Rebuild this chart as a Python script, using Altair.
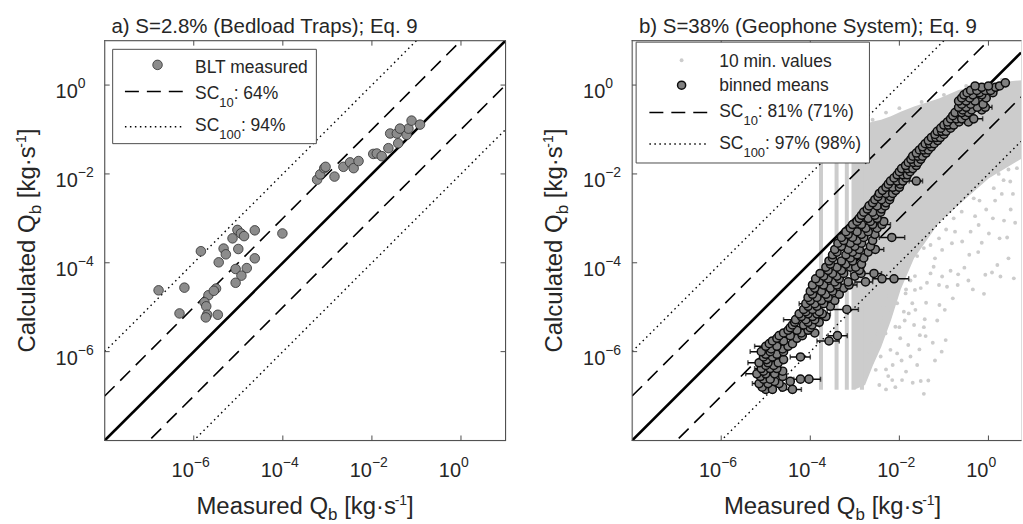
import altair as alt
import pandas as pd

# ------------------------------------------------------------------ data
# reference lines: calculated = factor * measured
LINE_SOLID = [1.0]
LINE_DASHED = [10.0, 0.1]
LINE_DOTTED = [100.0, 0.01]

# labelled decade ticks (exponents)
TICK_EXP = [-6, -4, -2, 0]

# panel a: bedload traps, log10(measured), log10(calculated)
BLT_LOGX = [-6.79, -6.21, -6.32, -5.02, -5.84, -5.33, -5.28, -5.44, -5.13, -5.00, -4.94, -4.87,
            -4.63, -4.01, -4.63, -4.81, -5.06, -4.93, -5.06, -5.50, -5.67, -5.76, -5.72, -5.70,
            -5.73, -5.46, -5.55,
            -3.23, -3.16, -3.07, -3.04, -2.84, -2.64, -2.49, -2.41, -2.30, -1.97, -1.89, -1.78,
            -1.63, -1.59, -1.44, -1.41, -1.22, -1.18, -1.11, -0.92, -1.37]
BLT_LOGY = [-4.62, -4.56, -5.14, -3.26, -3.74, -3.68, -3.81, -3.99, -3.45, -3.69, -3.34, -3.40,
            -3.27, -3.34, -3.90, -4.12, -4.14, -4.29, -4.45, -4.58, -4.73, -4.89, -4.98, -5.17,
            -5.23, -5.17, -4.63,
            -2.13, -2.01, -1.87, -1.84, -2.06, -1.84, -1.74, -1.87, -1.71, -1.55, -1.54, -1.60,
            -1.42, -1.09, -1.09, -1.31, -1.12, -0.98, -0.80, -0.89, -0.98]

# panel b: binned means, rows of (log10 calculated, [log10 measured, ...])
BINNED_ROWS = [
    (-6.85, [-5.00, -4.85, -4.40]),
    (-6.80, [-5.08, -4.62]),
    (-6.72, [-5.15, -4.95, -4.70]),
    (-6.67, [-4.80, -4.45]),
    (-6.62, [-5.05, -4.90, -4.22, -4.03]),
    (-6.56, [-5.12, -4.62]),
    (-6.50, [-5.20, -5.00, -4.80]),
    (-6.44, [-5.05, -4.62]),
    (-6.38, [-5.10, -4.90, -4.75]),
    (-6.31, [-5.00, -4.82]),
    (-6.25, [-5.15, -4.95, -4.72]),
    (-6.18, [-4.98, -4.60]),
    (-6.12, [-5.05, -4.85, -4.22]),
    (-6.06, [-5.00, -4.75]),
    (-6.00, [-5.10, -4.90, -4.60]),
    (-5.94, [-4.88, -4.62]),
    (-5.88, [-5.00, -4.75, -4.50]),
    (-5.82, [-4.92, -4.40]),
    (-5.76, [-4.85, -4.60, -3.58]),
    (-5.70, [-4.75, -4.30]),
    (-5.64, [-4.70, -4.45, -4.18, -3.39]),
    (-5.58, [-4.60, -4.20, -3.90]),
    (-5.52, [-4.50, -4.30, -4.05]),
    (-5.46, [-4.45, -4.00]),
    (-5.40, [-4.40, -4.15, -3.96]),
    (-5.34, [-4.35, -4.05, -3.80]),
    (-5.28, [-4.33, -4.10, -3.90]),
    (-5.21, [-4.20, -3.95, -3.65]),
    (-5.15, [-4.25, -4.05, -3.85, -3.73]),
    (-5.10, [-4.10, -3.80]),
    (-5.05, [-4.15, -3.95, -3.18]),
    (-4.98, [-4.05, -3.85, -3.55]),
    (-4.92, [-4.10, -3.90, -3.70]),
    (-4.85, [-4.00, -3.75, -3.45]),
    (-4.78, [-4.05, -3.85, -3.60]),
    (-4.71, [-3.95, -3.65, -3.35]),
    (-4.64, [-4.00, -3.75, -3.50]),
    (-4.57, [-3.90, -3.55, -3.25]),
    (-4.50, [-3.95, -3.70, -3.40, -3.13]),
    (-4.43, [-3.80, -3.45, -3.15, -2.76]),
    (-4.36, [-3.88, -3.60, -3.35, -2.39, -2.12]),
    (-4.30, [-3.70, -3.40, -3.00]),
    (-4.24, [-3.78, -3.50, -3.25, -2.86, -2.57]),
    (-4.17, [-3.60, -3.30, -2.90]),
    (-4.10, [-3.65, -3.40, -3.10, -2.98]),
    (-4.03, [-3.55, -3.20, -2.85]),
    (-3.96, [-3.58, -3.30, -3.05]),
    (-3.89, [-3.50, -3.10, -2.80]),
    (-3.82, [-3.50, -3.20, -2.95]),
    (-3.76, [-3.40, -3.05, -2.70]),
    (-3.70, [-3.45, -3.15, -2.90, -2.54]),
    (-3.63, [-3.30, -3.00, -2.65]),
    (-3.56, [-3.38, -3.10, -2.85]),
    (-3.50, [-3.25, -2.95, -2.60]),
    (-3.43, [-3.30, -3.05, -2.80, -2.17]),
    (-3.36, [-3.15, -2.85, -2.55]),
    (-3.30, [-3.20, -2.95, -2.70]),
    (-3.22, [-3.10, -2.75, -2.50]),
    (-3.14, [-3.05, -2.85, -2.60, -2.39]),
    (-3.07, [-2.95, -2.65, -2.35]),
    (-3.00, [-2.90, -2.70, -2.50]),
    (-2.93, [-2.85, -2.55]),
    (-2.86, [-2.80, -2.60, -2.42]),
    (-2.79, [-2.72, -2.40]),
    (-2.72, [-2.68, -2.50, -2.32]),
    (-2.65, [-2.60, -2.30]),
    (-2.58, [-2.55, -2.40, -2.22]),
    (-2.51, [-2.48, -2.20]),
    (-2.44, [-2.45, -2.30, -2.15]),
    (-2.37, [-2.38, -2.08]),
    (-2.30, [-2.30, -2.15, -2.00]),
    (-2.23, [-2.25, -1.98]),
    (-2.16, [-2.20, -2.05, -1.92, -1.62]),
    (-2.09, [-2.12, -1.85]),
    (-2.02, [-2.05, -1.92, -1.82]),
    (-1.95, [-2.00, -1.76]),
    (-1.88, [-1.95, -1.82, -1.70]),
    (-1.81, [-1.86, -1.62]),
    (-1.74, [-1.80, -1.68, -1.58]),
    (-1.67, [-1.74, -1.52]),
    (-1.60, [-1.70, -1.58, -1.48]),
    (-1.53, [-1.62, -1.40]),
    (-1.46, [-1.55, -1.45, -1.35]),
    (-1.39, [-1.48, -1.28]),
    (-1.32, [-1.42, -1.32, -1.22]),
    (-1.25, [-1.35, -1.14]),
    (-1.18, [-1.28, -1.18, -1.08]),
    (-1.11, [-1.20, -1.00]),
    (-1.04, [-1.15, -1.05, -0.95]),
    (-0.97, [-1.07, -0.85]),
    (-0.90, [-1.00, -0.90, -0.78]),
    (-0.83, [-0.92, -0.66, -0.45]),
    (-0.76, [-0.85, -0.72, -0.60, -0.33]),
    (-0.69, [-0.80, -0.52]),
    (-0.62, [-0.75, -0.60, -0.45]),
    (-0.56, [-0.58, -0.38, -0.15]),
    (-0.50, [-0.67, -0.50, -0.25, -0.07]),
    (-0.43, [-0.60, -0.40, -0.12]),
    (-0.36, [-0.67, -0.50, -0.30]),
    (-0.29, [-0.60, -0.42, -0.05]),
    (-0.22, [-0.55, -0.35, -0.15]),
    (-0.17, [-0.48, -0.20, 0.10]),
    (-0.12, [-0.40, -0.26, -0.07, 0.05]),
    (-0.05, [-0.15, 0.16]),
    (-0.02, [-0.30, 0.00, 0.25]),
    (0.05, [0.38]),
]
# horizontal error bars: (log10 calculated, log10 measured low, log10 measured high)
ERRBARS = [
    (-6.50, -5.45, -5.00), (-6.00, -5.35, -4.90), (-6.72, -5.30, -4.80), (-6.25, -5.40, -4.95),
    (-5.88, -5.25, -4.80), (-6.38, -5.25, -4.95), (-5.28, -4.60, -4.15), (-6.12, -4.45, -4.00),
    (-6.62, -4.37, -3.77), (-6.85, -4.66, -4.20), (-5.76, -3.85, -3.35), (-5.64, -3.60, -3.17),
    (-5.05, -3.62, -2.92), (-4.36, -2.60, -1.79), (-4.24, -3.10, -2.40), (-4.10, -3.20, -2.80),
    (-3.70, -3.06, -2.35), (-3.43, -2.45, -1.88), (-3.14, -2.60, -2.20), (-2.16, -1.78, -1.48),
    (-0.76, -0.45, -0.13), (-0.50, -0.25, 0.08), (-4.50, -3.30, -2.95), (-5.15, -3.90, -3.55),
    (-5.40, -4.10, -3.80), (-4.92, -4.25, -3.95), (-4.43, -3.00, -2.60),
]

# 10-min values: columns of quantised measured values
STRIPE_LOGX = [-3.76, -3.41, -3.18, -3.03, -2.84]
STRIPE_LOGY_LO = [-6.86, -6.86, -6.86, -6.86, -6.86]
STRIPE_LOGY_HI = [-0.95, -0.95, -0.95, -0.95, -0.90]
# dense part of the 10-min cloud (outline)
DENSE_LOGX = [-3.00, -2.77, -2.59, -2.41, -2.19, -1.97, -1.67, -1.11, -0.67, 0.01, 0.75]
DENSE_TOP = [-0.95, -0.88, -0.82, -0.78, -0.70, -0.60, -0.48, -0.30, -0.11, 0.04, 0.11]
DENSE_BOT = [-6.85, -6.75, -6.30, -5.90, -5.30, -4.60, -3.90, -3.10, -2.70, -2.10, -1.65]
# scattered 10-min values (log10 measured, log10 calculated)
SPARSE = [
    (-0.05, -2.80), (0.25, -3.45), (0.42, -3.43), (0.57, -4.35), (0.27, -4.31), (0.08, -4.22),
    (-0.07, -4.27), (-0.23, -3.76), (-0.43, -3.82), (-0.54, -4.11), (-0.68, -4.26), (-0.69, -4.50),
    (-0.93, -4.54), (-1.11, -4.50), (-0.85, -4.18), (-1.04, -4.31), (-0.98, -5.06), (-1.38, -4.45),
    (-1.43, -5.27), (-1.54, -5.63), (-1.41, -5.65), (-0.96, -5.74), (-1.75, -6.11), (-1.94, -6.64),
    (-1.52, -6.66), (-1.67, -5.40), (-1.79, -5.14), (-1.64, -5.06), (-1.71, -4.91), (-1.86, -4.69),
    (-1.65, -4.61), (-1.52, -4.57), (-1.30, -4.24), (-1.23, -4.09), (-1.04, -3.71), (-0.82, -3.56),
    (-0.59, -3.52), (-0.40, -3.30), (-0.22, -3.15), (0.01, -3.34), (0.34, -2.14), (0.49, -2.17),
    (0.23, -2.00), (0.57, -1.61),
    (-2.16, -6.64), (-2.53, -6.41), (-2.61, -6.23), (-2.42, -6.11), (-2.20, -5.96), (-2.05, -6.04),
    (-2.68, -6.00), (-2.31, -5.59), (-2.09, -5.44), (-2.46, -5.36), (-2.61, -5.81), (-2.20, -5.14),
    (-2.35, -4.99), (-2.05, -4.91), (-2.09, -6.80), (-2.30, -6.40), (-2.45, -6.75), (-1.98, -5.70),
    (-1.90, -4.19), (-1.79, -3.90), (-1.45, -3.67), (-1.11, -3.45), (-0.78, -3.00), (-0.33, -2.55),
    (0.12, -2.32), (0.64, -1.87), (-2.50, -5.60), (-2.40, -5.25), (-2.28, -4.75), (-2.15, -4.45),
    (-2.00, -4.30), (-1.85, -4.05), (-1.60, -3.85), (-1.30, -3.60), (-0.95, -3.25), (-0.60, -2.85),
    (-0.20, -2.60), (0.30, -2.45), (0.45, -1.90), (-1.88, -5.30), (-1.75, -4.40), (-1.20, -3.90),
    (-0.75, -3.30), (-0.30, -2.95), (0.15, -2.60), (0.55, -2.45),
    (-2.25, -6.55), (-2.15, -6.30), (-1.95, -6.20), (-1.85, -6.45), (-1.70, -6.70), (-1.60, -6.30),
    (-1.35, -6.65), (-1.20, -6.20), (-1.05, -6.00), (-1.25, -5.80), (-1.55, -5.95), (-1.80, -5.85),
    (-2.00, -5.45), (-1.90, -5.10), (-1.45, -5.45), (-1.15, -5.30), (-0.35, -4.60), (-0.10, -4.70),
    (0.20, -4.05), (0.45, -3.90), (0.60, -3.10), (0.50, -2.80), (0.35, -3.05), (0.10, -3.00),
    (-0.15, -3.55), (-0.45, -4.40), (-0.80, -4.80), (-1.10, -4.95), (-1.40, -4.90), (-1.65, -4.30),
    (-1.85, -4.60), (-2.30, -6.85), (-1.45, -6.95),
    (-2.60, -0.78), (-2.30, -0.62), (-2.00, -0.52), (-1.50, -0.38), (-1.00, -0.22), (-0.50, -0.02),
    (0.30, 0.12),
]

TITLE_A = "a) S=2.8% (Bedload Traps); Eq. 9"
TITLE_B = "b) S=38% (Geophone System); Eq. 9"
LEG_A_POINT = "BLT measured"
LEG_A_SC10 = ("SC", "10", ": 64%")
LEG_A_SC100 = ("SC", "100", ": 94%")
LEG_B_CLOUD = "10 min. values"
LEG_B_BINNED = "binned means"
LEG_B_SC10 = ("SC", "10", ": 81% (71%)")
LEG_B_SC100 = ("SC", "100", ": 97% (98%)")
XLABEL = ("Measured Q", "b", " [kg\u00b7s", "-1", "]")
YLABEL = ("Calculated Q", "b", " [kg\u00b7s", "-1", "]")

# ------------------------------------------------------------------ style / layout
FONT = "Liberation Sans"
TXT = "#262626"
FRAME = "#4d4d4d"
PT_FILL = "#8c8c8c"
BIN_FILL = "#808080"
BIN_EDGE = "#0d0d0d"
CLOUD = "#cccccc"
H = 401
W_A = 402
W_B = 390
PX_DEC = W_A / 9.0
X_MAX_B = 10 ** (W_B / PX_DEC - 8)
LEFT, TOP = 103.7, 39.0
GAP = 127
DASH = [14, 8]
DOT = [1.5, 3.5]

AW = {' ': 278, '!': 278, '%': 889, '(': 333, ')': 333, ',': 278, '-': 333, '.': 278, ':': 278,
      ';': 278, '=': 584, '[': 278, ']': 278, '\u00b7': 278, '\u2212': 584,
      'A': 667, 'B': 667, 'C': 722, 'D': 722, 'E': 667, 'F': 611, 'G': 778, 'H': 722, 'I': 278,
      'J': 500, 'K': 667, 'L': 556, 'M': 833, 'N': 722, 'O': 778, 'P': 667, 'Q': 778, 'R': 722,
      'S': 667, 'T': 611, 'U': 722, 'V': 667, 'W': 944, 'X': 667, 'Y': 667, 'Z': 611,
      'a': 556, 'b': 556, 'c': 500, 'd': 556, 'e': 556, 'f': 278, 'g': 556, 'h': 556, 'i': 222,
      'j': 222, 'k': 500, 'l': 222, 'm': 833, 'n': 556, 'o': 556, 'p': 556, 'q': 556, 'r': 333,
      's': 500, 't': 278, 'u': 556, 'v': 500, 'w': 722, 'x': 500, 'y': 500, 'z': 500}
for _d in "0123456789":
    AW[_d] = 556


def tw(s, size):
    return sum(AW.get(c, 556) for c in s) * size / 1000.0


DUMMY = pd.DataFrame({"d": [0]})


def txt(text, x, y, size, angle=0, color=TXT):
    return alt.Chart(DUMMY).mark_text(
        text=text, font=FONT, fontSize=size, align="left", baseline="alphabetic",
        angle=angle, color=color).encode(x=alt.value(x), y=alt.value(y))


def run(pieces, x0, y0, angle=0, center=None):
    """pieces: (text, size, baseline shift); shift > 0 lowers (subscript)."""
    total = sum(tw(t, s) for t, s, _ in pieces)
    marks = []
    sign = 1 if angle == 0 else -1
    if angle == 0:
        cur = x0 if center is None else center - total / 2
    else:
        cur = y0 if center is None else center + total / 2
    for t, s, sh in pieces:
        body = t.lstrip(" ")
        cur += sign * tw(t[:len(t) - len(body)], s)
        if angle == 0:
            marks.append(txt(body, cur, y0 + sh, s))
        else:
            marks.append(txt(body, x0 + sh, cur, s, angle=270))
        cur += sign * tw(body, s)
    return marks


def label_pieces(parts, big, sub, sup):
    a, b, c, d, e = parts
    return [(a, big, 0), (b, sub, 6), (c, big, 0), (d, sup, -9), (e, big, 0)]


def sc_pieces(parts, size=17.5):
    a, b, c = parts
    return [(a, size, 0), (b, 13, 8), (c, size, 0)]


def build_panel(width, xmax, title, right_side):
    xs = alt.Scale(type="log", domain=[1e-8, xmax], nice=False)
    ys = alt.Scale(type="log", domain=[1e-8, 10.0], nice=False)
    X = lambda f: alt.X(f, type="quantitative", scale=xs, axis=None, title=None)
    Y = lambda f: alt.Y(f, type="quantitative", scale=ys, axis=None, title=None)

    rows = []
    for kind, facs in (("solid", LINE_SOLID), ("dash", LINE_DASHED), ("dot", LINE_DOTTED)):
        for f in facs:
            for xv in (1e-8, xmax):
                rows.append({"x": xv, "y": f * xv, "kind": kind, "f": str(f)})
    lines = pd.DataFrame(rows)
    line_layers = [
        alt.Chart(lines[lines.kind == "solid"]).mark_line(color="#000000", strokeWidth=2.6, clip=True)
        .encode(x=X("x"), y=Y("y"), detail="f:N"),
        alt.Chart(lines[lines.kind == "dash"]).mark_line(color="#000000", strokeWidth=1.6, strokeDash=DASH, clip=True)
        .encode(x=X("x"), y=Y("y"), detail="f:N"),
        alt.Chart(lines[lines.kind == "dot"]).mark_line(color="#000000", strokeWidth=1.4, strokeDash=DOT, clip=True)
        .encode(x=X("x"), y=Y("y"), detail="f:N"),
    ]

    ticks = pd.DataFrame({"v": [10.0 ** e for e in TICK_EXP],
                          "e": [("\u2212" + str(-e)) if e < 0 else str(e) for e in TICK_EXP]})
    frame = [
        alt.Chart(DUMMY).mark_rule(color=FRAME, strokeWidth=1, strokeCap="square")
        .encode(x=alt.value(0), x2=alt.value(width), y=alt.value(0)),
        alt.Chart(DUMMY).mark_rule(color=FRAME, strokeWidth=1, strokeCap="square")
        .encode(x=alt.value(0), x2=alt.value(width), y=alt.value(H)),
        alt.Chart(DUMMY).mark_rule(color=FRAME, strokeWidth=1, strokeCap="square")
        .encode(x=alt.value(0), y=alt.value(0), y2=alt.value(H)),
        alt.Chart(ticks).mark_rule(color=FRAME, strokeWidth=1)
        .encode(x=X("v"), y=alt.value(H), y2=alt.value(H - 5)),
        alt.Chart(ticks).mark_rule(color=FRAME, strokeWidth=1)
        .encode(x=X("v"), y=alt.value(0), y2=alt.value(5)),
        alt.Chart(ticks).mark_rule(color=FRAME, strokeWidth=1)
        .encode(y=Y("v"), x=alt.value(0), x2=alt.value(5)),
        alt.Chart(ticks).mark_text(font=FONT, fontSize=20, align="right", baseline="alphabetic", color=TXT)
        .encode(x=X("v"), y=alt.value(H + 37), text=alt.value("10")),
        alt.Chart(ticks).mark_text(font=FONT, fontSize=14, align="left", baseline="alphabetic", color=TXT)
        .encode(x=X("v"), y=alt.value(H + 27), text="e:N"),
        alt.Chart(ticks).mark_text(font=FONT, fontSize=20, align="right", baseline="alphabetic", color=TXT, dy=13.4)
        .encode(y=Y("v"), x=alt.value(-27), text=alt.value("10")),
        alt.Chart(ticks).mark_text(font=FONT, fontSize=14, align="left", baseline="alphabetic", color=TXT, dy=3.4)
        .encode(y=Y("v"), x=alt.value(-27), text="e:N"),
    ]
    if right_side:
        frame += [
            alt.Chart(DUMMY).mark_rule(color=FRAME, strokeWidth=1, strokeCap="square")
            .encode(x=alt.value(width), y=alt.value(0), y2=alt.value(H)),
            alt.Chart(ticks).mark_rule(color=FRAME, strokeWidth=1)
            .encode(y=Y("v"), x=alt.value(width - 5), x2=alt.value(width)),
        ]

    texts = [txt(title, 6.8, -8, 20.5)]
    texts += run(label_pieces(XLABEL, 24, 17, 14), 0, H + 74, center=W_A / 2)
    texts += run(label_pieces(YLABEL, 24, 17, 14), -70.2, 0, angle=270, center=H / 2)
    return xs, ys, X, Y, line_layers, frame, texts


# ------------------------------------------------------------------ panel a
xs, ys, X, Y, lines_a, frame_a, texts_a = build_panel(W_A, 10.0, TITLE_A, True)
blt = pd.DataFrame({"x": [10.0 ** v for v in BLT_LOGX], "y": [10.0 ** v for v in BLT_LOGY]})
pts_a = alt.Chart(blt).mark_circle(size=92, fill=PT_FILL, stroke="#303030", strokeWidth=0.8,
                                   opacity=1, clip=True).encode(x=X("x"), y=Y("y"))
legend_a = [
    alt.Chart(DUMMY).mark_rect(fill="white", stroke=FRAME, strokeWidth=1)
    .encode(x=alt.value(8), x2=alt.value(212.3), y=alt.value(8.7), y2=alt.value(103.3)),
    alt.Chart(DUMMY).mark_circle(size=92, fill=PT_FILL, stroke="#303030", strokeWidth=0.8, opacity=1)
    .encode(x=alt.value(53), y=alt.value(24.3)),
    alt.Chart(DUMMY).mark_rule(color="black", strokeWidth=1.6, strokeDash=DASH)
    .encode(x=alt.value(20.3), x2=alt.value(78.3), y=alt.value(51)),
    alt.Chart(DUMMY).mark_rule(color="black", strokeWidth=1.4, strokeDash=DOT)
    .encode(x=alt.value(20.3), x2=alt.value(78.3), y=alt.value(86.3)),
    txt(LEG_A_POINT, 90.6, 32.7, 17.5),
]
legend_a += run(sc_pieces(LEG_A_SC10), 90.6, 58.7)
legend_a += run(sc_pieces(LEG_A_SC100), 90.6, 90.3)
anchor = alt.Chart(DUMMY).mark_rect(opacity=0).encode(
    x=alt.value(-LEFT), x2=alt.value(-LEFT + 2), y=alt.value(-TOP), y2=alt.value(-TOP + 2))

panel_a = alt.layer(*lines_a, pts_a, *frame_a, *legend_a, *texts_a, anchor).properties(
    width=W_A, height=H)

# ------------------------------------------------------------------ panel b
xs, ys, X, Y, lines_b, frame_b, texts_b = build_panel(W_B, X_MAX_B, TITLE_B, False)

dense = pd.DataFrame({"x": [10.0 ** v for v in DENSE_LOGX],
                      "top": [10.0 ** v for v in DENSE_TOP],
                      "bot": [10.0 ** v for v in DENSE_BOT]})
stripes = pd.DataFrame({"x": [10.0 ** v for v in STRIPE_LOGX],
                        "lo": [10.0 ** v for v in STRIPE_LOGY_LO],
                        "hi": [10.0 ** v for v in STRIPE_LOGY_HI]})
sparse = pd.DataFrame({"x": [10.0 ** a for a, b in SPARSE], "y": [10.0 ** b for a, b in SPARSE]})
binned = pd.DataFrame([{"x": 10.0 ** xv, "y": 10.0 ** yv} for yv, xl in BINNED_ROWS for xv in xl])
errs = pd.DataFrame([{"y": 10.0 ** yv, "lo": 10.0 ** lo, "hi": 10.0 ** hi} for yv, lo, hi in ERRBARS])
caps = pd.DataFrame([{"y": 10.0 ** yv, "x": 10.0 ** e} for yv, lo, hi in ERRBARS for e in (lo, hi)])

cloud_layers = [
    alt.Chart(dense).mark_area(color=CLOUD, opacity=1, clip=True, interpolate="linear")
    .encode(x=X("x"), y=Y("top"), y2="bot:Q"),
    alt.Chart(stripes).mark_rule(color=CLOUD, strokeWidth=4, clip=True)
    .encode(x=X("x"), y=Y("lo"), y2="hi:Q"),
    alt.Chart(sparse).mark_circle(color=CLOUD, size=15, opacity=1, clip=True)
    .encode(x=X("x"), y=Y("y")),
]
err_layers = [
    alt.Chart(errs).mark_rule(color=BIN_EDGE, strokeWidth=1.5, clip=True)
    .encode(x=X("lo"), x2="hi:Q", y=Y("y")),
    alt.Chart(caps).mark_tick(color=BIN_EDGE, orient="vertical", size=5, thickness=1.5, clip=True)
    .encode(x=X("x"), y=Y("y")),
]
pts_b = alt.Chart(binned).mark_circle(size=66, fill=BIN_FILL, stroke=BIN_EDGE, strokeWidth=1.5,
                                      opacity=1, clip=True).encode(x=X("x"), y=Y("y"))
legend_b = [
    alt.Chart(DUMMY).mark_rect(fill="white", stroke=FRAME, strokeWidth=1)
    .encode(x=alt.value(4), x2=alt.value(238), y=alt.value(1.5), y2=alt.value(122.7)),
    alt.Chart(DUMMY).mark_circle(size=15, color=CLOUD, opacity=1)
    .encode(x=alt.value(49.6), y=alt.value(19.7)),
    alt.Chart(DUMMY).mark_circle(size=66, fill=BIN_FILL, stroke=BIN_EDGE, strokeWidth=1.5, opacity=1)
    .encode(x=alt.value(49.6), y=alt.value(44.7)),
    alt.Chart(DUMMY).mark_rule(color="black", strokeWidth=1.6, strokeDash=DASH)
    .encode(x=alt.value(17.3), x2=alt.value(79), y=alt.value(72)),
    alt.Chart(DUMMY).mark_rule(color="black", strokeWidth=1.4, strokeDash=DOT)
    .encode(x=alt.value(17.3), x2=alt.value(75.3), y=alt.value(103.7)),
    txt(LEG_B_CLOUD, 87.3, 26.3, 17.5),
    txt(LEG_B_BINNED, 87.3, 50.3, 17.5),
]
legend_b += run(sc_pieces(LEG_B_SC10), 87.3, 77)
legend_b += run(sc_pieces(LEG_B_SC100), 87.3, 108.3)

panel_b = alt.layer(*cloud_layers, *lines_b, *err_layers, pts_b, *frame_b, *legend_b, *texts_b).properties(
    width=W_B, height=H)

chart = alt.hconcat(panel_a, panel_b, spacing=GAP, bounds="flush").properties(
    padding={"left": 0, "top": 0, "right": 0, "bottom": 0}
).configure_view(strokeWidth=0).configure(background="white")

chart.save("out.html", embed_options={"renderer": "svg", "actions": False})
